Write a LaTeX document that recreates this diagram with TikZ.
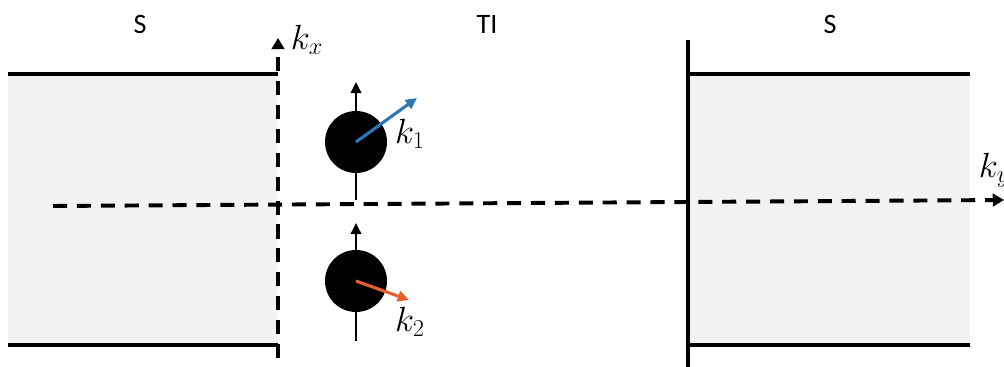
\documentclass[tikz,border=0pt]{standalone}
\usepackage{fontspec}
\setmainfont{Carlito}
\usepackage{xcolor}
\usetikzlibrary{arrows.meta}

\definecolor{kblue}{HTML}{2E75B6}
\definecolor{korange}{HTML}{E8612C}
\definecolor{slab}{HTML}{F2F2F2}

\begin{document}
\begin{tikzpicture}[
  x=0.25mm, y=-0.25mm,
  edge/.style={line width=2.4pt},
  axis/.style={line width=2.8pt, dash pattern=on 10pt off 7pt, -{Triangle[length=8pt, width=9pt]}},
  region/.style={font=\fontsize{20}{24}\selectfont},
  lbl/.style={font=\fontsize{23}{26}\selectfont},
  particle/.style={circle, fill=black, minimum size=15.5mm, inner sep=0pt},
  spin/.style={line width=1.8pt, -{Triangle[length=8pt, width=7.5pt]}},
  kvec/.style={line width=2.2pt, -{Triangle[length=8pt, width=7.5pt]}}
]
\useasboundingbox (0,0) rectangle (1004,367);

% superconducting leads
\fill[slab] (8,74) rectangle (277,345);
\fill[slab] (689,74) rectangle (970,345);
\draw[edge] (8,74) -- (278,74);
\draw[edge] (8,345) -- (278,345);
\draw[edge] (688,74) -- (970,74);
\draw[edge] (688,345) -- (970,345);
\draw[edge] (688,40) -- (688,367);

% region labels
\node[region] (sl) at (140,24) {S};
\node[region] (ti) at (487,24) {TI};
\node[region] (sr) at (830,24) {S};

% axes
\coordinate (xbot) at (278,358);
\coordinate (xtop) at (278,38);
\coordinate (ybeg) at (53,206);
\coordinate (yend) at (1004,200);
\draw[axis] (xbot) -- (xtop);
\draw[axis] (ybeg) -- (yend);
\node[lbl, anchor=west] (kx) at (286,40) {$k_x$};
\node[lbl, anchor=west] (ky) at (974,170) {$k_y$};

% electrons
\node[particle] (e1) at (356,142) {};
\node[particle] (e2) at (356,281) {};
\coordinate (s1b) at (356,200);
\coordinate (s1t) at (356,82);
\coordinate (s2b) at (356,341);
\coordinate (s2t) at (356,223);
\draw[spin] (s1b) -- (s1t);
\draw[spin] (s2b) -- (s2t);

\coordinate (k1tip) at (417,98);
\coordinate (k2tip) at (409,300);
\draw[kvec, kblue] (e1.center) -- (k1tip);
\draw[kvec, korange] (e2.center) -- (k2tip);
\node[lbl] (k1) at (410,134) {$k_1$};
\node[lbl] (k2) at (410,322) {$k_2$};
\end{tikzpicture}
\end{document}
